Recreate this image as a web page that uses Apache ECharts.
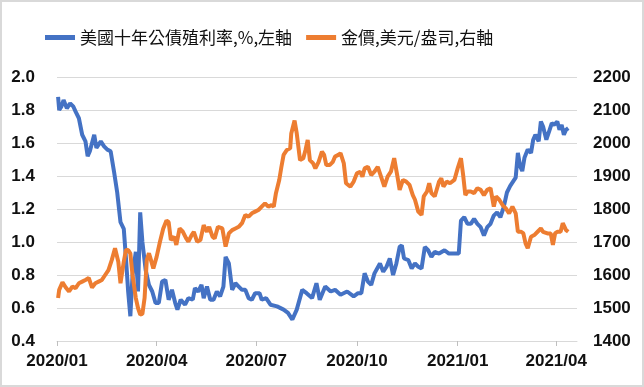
<!DOCTYPE html>
<html>
<head>
<meta charset="utf-8">
<script src="https://cdn.jsdelivr.net/npm/echarts@6/dist/echarts.min.js"></script>
<style>
html,body{margin:0;padding:0;background:#fff;}
#chart{width:644px;height:387px;}
</style>
</head>
<body>
<div id="chart"></div>
<script>
const yieldName = '美國十年公債殖利率,%,左軸';
const goldName = '金價,美元/盎司,右軸';

const yieldDates = [
'2020-01-02','2020-01-03','2020-01-05','2020-01-07','2020-01-10','2020-01-13','2020-01-16','2020-01-18','2020-01-21','2020-01-24',
'2020-01-27','2020-01-29','2020-01-31','2020-02-04','2020-02-06','2020-02-10','2020-02-13','2020-02-16','2020-02-19','2020-02-22',
'2020-02-25','2020-02-28','2020-03-02','2020-03-04','2020-03-06','2020-03-08','2020-03-10','2020-03-13','2020-03-15','2020-03-17',
'2020-03-19','2020-03-22','2020-03-25','2020-03-28','2020-03-31','2020-04-03','2020-04-06','2020-04-09','2020-04-12','2020-04-15',
'2020-04-18','2020-04-20','2020-04-23','2020-04-27','2020-04-30','2020-05-04','2020-05-06','2020-05-09','2020-05-12','2020-05-14',
'2020-05-17','2020-05-20','2020-05-23','2020-05-26','2020-05-29','2020-06-01','2020-06-03','2020-06-06','2020-06-09','2020-06-12',
'2020-06-15','2020-06-18','2020-06-21','2020-06-24','2020-06-27','2020-06-30','2020-07-04','2020-07-06','2020-07-10','2020-07-14',
'2020-07-20','2020-07-26','2020-07-30','2020-08-03','2020-08-07','2020-08-12','2020-08-16','2020-08-21','2020-08-25','2020-08-28',
'2020-09-02','2020-09-07','2020-09-11','2020-09-16','2020-09-22','2020-09-28','2020-10-02','2020-10-05','2020-10-08','2020-10-11',
'2020-10-14','2020-10-17','2020-10-22','2020-10-25','2020-10-28','2020-10-31','2020-11-03','2020-11-06','2020-11-09','2020-11-11',
'2020-11-13','2020-11-17','2020-11-20','2020-11-23','2020-11-26','2020-11-29','2020-12-02','2020-12-05','2020-12-08','2020-12-11',
'2020-12-15','2020-12-20','2020-12-24','2020-12-28','2021-01-02','2021-01-04','2021-01-07','2021-01-10','2021-01-13','2021-01-16',
'2021-01-19','2021-01-22','2021-01-25','2021-01-28','2021-01-31','2021-02-03','2021-02-06','2021-02-09','2021-02-12','2021-02-15',
'2021-02-18','2021-02-21','2021-02-23','2021-02-25','2021-02-27','2021-03-01','2021-03-03','2021-03-06','2021-03-09','2021-03-11',
'2021-03-13','2021-03-16','2021-03-18','2021-03-20','2021-03-23','2021-03-26','2021-03-28','2021-03-30','2021-04-02','2021-04-04',
'2021-04-06','2021-04-08','2021-04-10','2021-04-12'
];
const yieldValues = [
1.88,1.80,1.82,1.86,1.81,1.84,1.82,1.79,1.75,1.65,
1.61,1.52,1.55,1.65,1.57,1.61,1.58,1.56,1.55,1.43,
1.30,1.12,1.08,0.90,0.70,0.55,0.80,0.94,0.70,1.18,
1.00,0.83,0.74,0.70,0.63,0.63,0.76,0.77,0.65,0.71,
0.63,0.59,0.65,0.62,0.66,0.65,0.72,0.70,0.74,0.66,
0.73,0.65,0.65,0.70,0.67,0.73,0.91,0.87,0.71,0.75,
0.73,0.71,0.71,0.66,0.65,0.69,0.69,0.65,0.66,0.62,
0.61,0.59,0.57,0.53,0.59,0.71,0.69,0.66,0.75,0.65,
0.73,0.70,0.71,0.68,0.70,0.67,0.69,0.69,0.81,0.76,
0.74,0.81,0.87,0.82,0.85,0.90,0.80,0.87,0.97,0.98,
0.90,0.89,0.84,0.87,0.85,0.84,0.97,0.95,0.91,0.94,
0.93,0.95,0.93,0.93,0.93,1.13,1.15,1.11,1.11,1.14,
1.11,1.09,1.04,1.09,1.11,1.16,1.18,1.15,1.21,1.30,
1.34,1.37,1.39,1.54,1.46,1.43,1.51,1.56,1.54,1.62,
1.65,1.61,1.73,1.70,1.62,1.68,1.72,1.71,1.73,1.68,
1.71,1.65,1.68,1.69
];

const goldDates = [
'2020-01-02','2020-01-03','2020-01-06','2020-01-09','2020-01-12','2020-01-15','2020-01-18','2020-01-21','2020-01-24','2020-01-27',
'2020-01-30','2020-02-02','2020-02-05','2020-02-08','2020-02-11','2020-02-14','2020-02-17','2020-02-20','2020-02-23','2020-02-26',
'2020-02-28','2020-03-02','2020-03-04','2020-03-06','2020-03-08','2020-03-10','2020-03-13','2020-03-15','2020-03-17','2020-03-19',
'2020-03-21','2020-03-23','2020-03-25','2020-03-26','2020-03-29','2020-04-01','2020-04-04','2020-04-07','2020-04-10','2020-04-12',
'2020-04-14','2020-04-17','2020-04-19','2020-04-22','2020-04-25','2020-04-28','2020-04-30','2020-05-03','2020-05-05','2020-05-08',
'2020-05-11','2020-05-14','2020-05-17','2020-05-19','2020-05-22','2020-05-24','2020-05-27','2020-05-31','2020-06-03','2020-06-06',
'2020-06-09','2020-06-12','2020-06-15','2020-06-18','2020-06-21','2020-06-24','2020-06-27','2020-06-30','2020-07-03','2020-07-06',
'2020-07-09','2020-07-12','2020-07-15','2020-07-17','2020-07-19','2020-07-22','2020-07-24','2020-07-26','2020-07-29','2020-08-01',
'2020-08-02','2020-08-05','2020-08-07','2020-08-08','2020-08-10','2020-08-13','2020-08-15','2020-08-17','2020-08-19','2020-08-22',
'2020-08-24','2020-08-27','2020-08-30','2020-09-01','2020-09-03','2020-09-06','2020-09-09','2020-09-11','2020-09-14','2020-09-16',
'2020-09-19','2020-09-21','2020-09-25','2020-09-28','2020-10-01','2020-10-04','2020-10-06','2020-10-08','2020-10-11','2020-10-14',
'2020-10-17','2020-10-20','2020-10-23','2020-10-26','2020-10-29','2020-11-01','2020-11-04','2020-11-07','2020-11-09','2020-11-12',
'2020-11-15','2020-11-18','2020-11-21','2020-11-23','2020-11-26','2020-11-29','2020-12-01','2020-12-04','2020-12-06','2020-12-08',
'2020-12-11','2020-12-15','2020-12-17','2020-12-19','2020-12-22','2020-12-25','2020-12-29','2021-01-01','2021-01-04','2021-01-06',
'2021-01-08','2021-01-10','2021-01-13','2021-01-16','2021-01-19','2021-01-22','2021-01-25','2021-01-28','2021-01-31','2021-02-03',
'2021-02-05','2021-02-08','2021-02-11','2021-02-14','2021-02-17','2021-02-20','2021-02-23','2021-02-25','2021-02-28','2021-03-02',
'2021-03-04','2021-03-06','2021-03-09','2021-03-12','2021-03-15','2021-03-18','2021-03-20','2021-03-24','2021-03-27','2021-03-29',
'2021-03-31','2021-04-02','2021-04-05','2021-04-07','2021-04-10','2021-04-12'
];
const goldValues = [
1530,1555,1578,1562,1550,1565,1560,1575,1580,1585,
1591,1562,1575,1580,1585,1600,1615,1645,1681,1640,
1575,1640,1676,1676,1665,1600,1530,1500,1480,1482,
1530,1645,1666,1655,1620,1655,1700,1740,1765,1760,
1706,1716,1691,1741,1731,1711,1701,1721,1731,1701,
1706,1751,1731,1746,1716,1711,1746,1741,1686,1726,
1736,1741,1746,1757,1782,1777,1787,1792,1797,1807,
1817,1807,1812,1807,1848,1888,1928,1964,1979,1984,
2029,2068,2029,2034,1948,1954,1979,2009,1948,1938,
1923,1943,1974,1964,1933,1933,1943,1959,1964,1969,
1938,1878,1868,1883,1908,1913,1898,1923,1928,1903,
1913,1928,1898,1868,1898,1913,1954,1898,1858,1888,
1883,1873,1842,1828,1792,1782,1838,1853,1878,1848,
1838,1883,1893,1868,1883,1878,1888,1923,1954,1903,
1842,1853,1853,1848,1863,1858,1842,1858,1863,1807,
1838,1828,1812,1802,1787,1807,1787,1731,1731,1726,
1696,1681,1716,1721,1731,1741,1731,1726,1726,1691,
1726,1731,1731,1757,1736,1731
];

const tickDates = ['2020-01-01','2020-04-01','2020-07-01','2020-10-01','2021-01-01','2021-04-01'];
const tickLabels = ['2020/01','2020/04','2020/07','2020/10','2021/01','2021/04'];
const xStart = '2020-01-01';
const xEnd = '2021-04-20';

const ts = s => Date.parse(s);
const tickTs = tickDates.map(ts);
const zip = (a, b) => a.map((d, i) => [ts(d), b[i]]);

const chart = echarts.init(document.getElementById('chart'), null, {renderer: 'canvas'});
const labelFont = {fontFamily: 'Liberation Sans, Arial, sans-serif', fontWeight: 'bold', fontSize: 17, color: '#111'};

chart.setOption({
  animation: false,
  backgroundColor: '#fff',
  graphic: [{
    type: 'rect', silent: true,
    shape: {x: 1, y: 1, width: 642, height: 385},
    style: {fill: 'none', stroke: '#d9d9d9', lineWidth: 2}
  }],
  legend: {
    top: 24, left: 40,
    itemWidth: 30, itemHeight: 5, itemGap: 14,
    icon: 'rect',
    textStyle: {fontFamily: 'Noto Sans CJK TC', fontSize: 17, color: '#111'},
    data: [yieldName, goldName]
  },
  grid: {left: 57, right: 67, top: 77, bottom: 46},
  xAxis: {
    type: 'value',
    min: ts(xStart), max: ts(xEnd),
    axisLine: {show: true, lineStyle: {color: '#d9d9d9', width: 1}},
    axisTick: {show: true, length: 5, customValues: tickTs, lineStyle: {color: '#bfbfbf'}},
    axisLabel: Object.assign({
      margin: 12,
      customValues: tickTs,
      formatter: function (val) {
        const idx = tickTs.indexOf(val);
        return idx >= 0 ? tickLabels[idx] : '';
      }
    }, labelFont),
    splitLine: {show: false}
  },
  yAxis: [{
    type: 'value', min: 0.4, max: 2.0, interval: 0.2,
    axisLine: {show: false}, axisTick: {show: false},
    axisLabel: Object.assign({margin: 22, formatter: v => v.toFixed(1)}, labelFont),
    splitLine: {show: true, lineStyle: {color: '#d9d9d9', width: 1}}
  }, {
    type: 'value', min: 1400, max: 2200, interval: 100,
    axisLine: {show: false}, axisTick: {show: false},
    axisLabel: Object.assign({margin: 16, formatter: v => String(v)}, labelFont),
    splitLine: {show: false}
  }],
  series: [{
    name: yieldName, type: 'line', yAxisIndex: 0,
    data: zip(yieldDates, yieldValues),
    showSymbol: false, symbol: 'none',
    lineStyle: {color: '#4472C4', width: 4},
    itemStyle: {color: '#4472C4'}
  }, {
    name: goldName, type: 'line', yAxisIndex: 1,
    data: zip(goldDates, goldValues),
    showSymbol: false, symbol: 'none',
    lineStyle: {color: '#ED7D31', width: 4},
    itemStyle: {color: '#ED7D31'}
  }]
});
</script>
</body>
</html>
